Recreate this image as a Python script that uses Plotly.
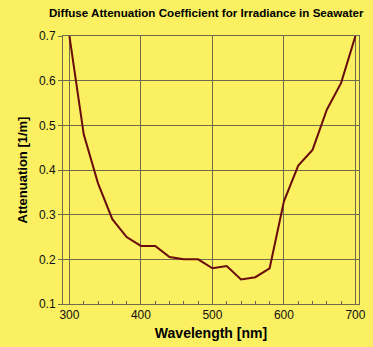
import plotly.graph_objects as go

wavelength = [300, 320, 340, 360, 380, 400, 420, 440, 460, 480, 500,
              520, 540, 560, 580, 600, 620, 640, 660, 680, 700]
attenuation = [0.70, 0.48, 0.37, 0.29, 0.25, 0.23, 0.23, 0.205, 0.20, 0.20, 0.18,
               0.185, 0.155, 0.16, 0.18, 0.33, 0.41, 0.445, 0.535, 0.595, 0.70]
x_ticks = [300, 400, 500, 600, 700]
y_ticks = [0.1, 0.2, 0.3, 0.4, 0.5, 0.6, 0.7]

bg = "#FAF062"
grid = "#6E6A4A"

fig = go.Figure()
fig.add_trace(go.Scatter(
    x=wavelength, y=attenuation, mode="lines",
    line=dict(color="#6A0C0C", width=2),
    showlegend=False, hoverinfo="skip"))

fig.update_layout(
    width=373, height=347,
    paper_bgcolor=bg, plot_bgcolor=bg,
    margin=dict(l=63, r=7, t=36, b=43),
    title=dict(text="<b>Diffuse Attenuation Coefficient for Irradiance in Seawater</b>",
               x=0.553, xanchor="center", y=0.962, yanchor="middle",
               font=dict(family="Liberation Sans, Arial", size=11.6, color="#000")),
    font=dict(family="Liberation Sans, Arial", color="#111"),
)
fig.update_xaxes(
    range=[291, 705], tickvals=x_ticks, ticktext=[str(v) for v in x_ticks],
    showgrid=True, gridcolor=grid, gridwidth=1,
    showline=True, linecolor=grid, linewidth=1, mirror=True,
    ticks="inside", ticklen=3, tickcolor=grid,
    minor=dict(dtick=20, tick0=300, ticks="inside", ticklen=3, tickcolor=grid, showgrid=False),
    tickfont=dict(size=12, color="#111", family="Liberation Sans, Arial"),
    title=dict(text="<b>Wavelength [nm]</b>", standoff=6,
               font=dict(size=14, color="#000", family="Liberation Sans, Arial")),
    zeroline=False)
fig.update_yaxes(
    range=[0.1, 0.7], tickvals=y_ticks, ticktext=[f"{v:.1f}" for v in y_ticks],
    showgrid=True, gridcolor=grid, gridwidth=1,
    showline=True, linecolor=grid, linewidth=1, mirror=True,
    ticks="outside", ticklen=4, tickcolor=grid,
    tickfont=dict(size=12, color="#111", family="Liberation Sans, Arial"),
    title=dict(text="<b>Attenuation [1/m]</b>", standoff=8,
               font=dict(size=13, color="#000", family="Liberation Sans, Arial")),
    zeroline=False)

fig.write_html("out.html", config={"displayModeBar": False},
               post_script="document.body.style.margin='0';")
